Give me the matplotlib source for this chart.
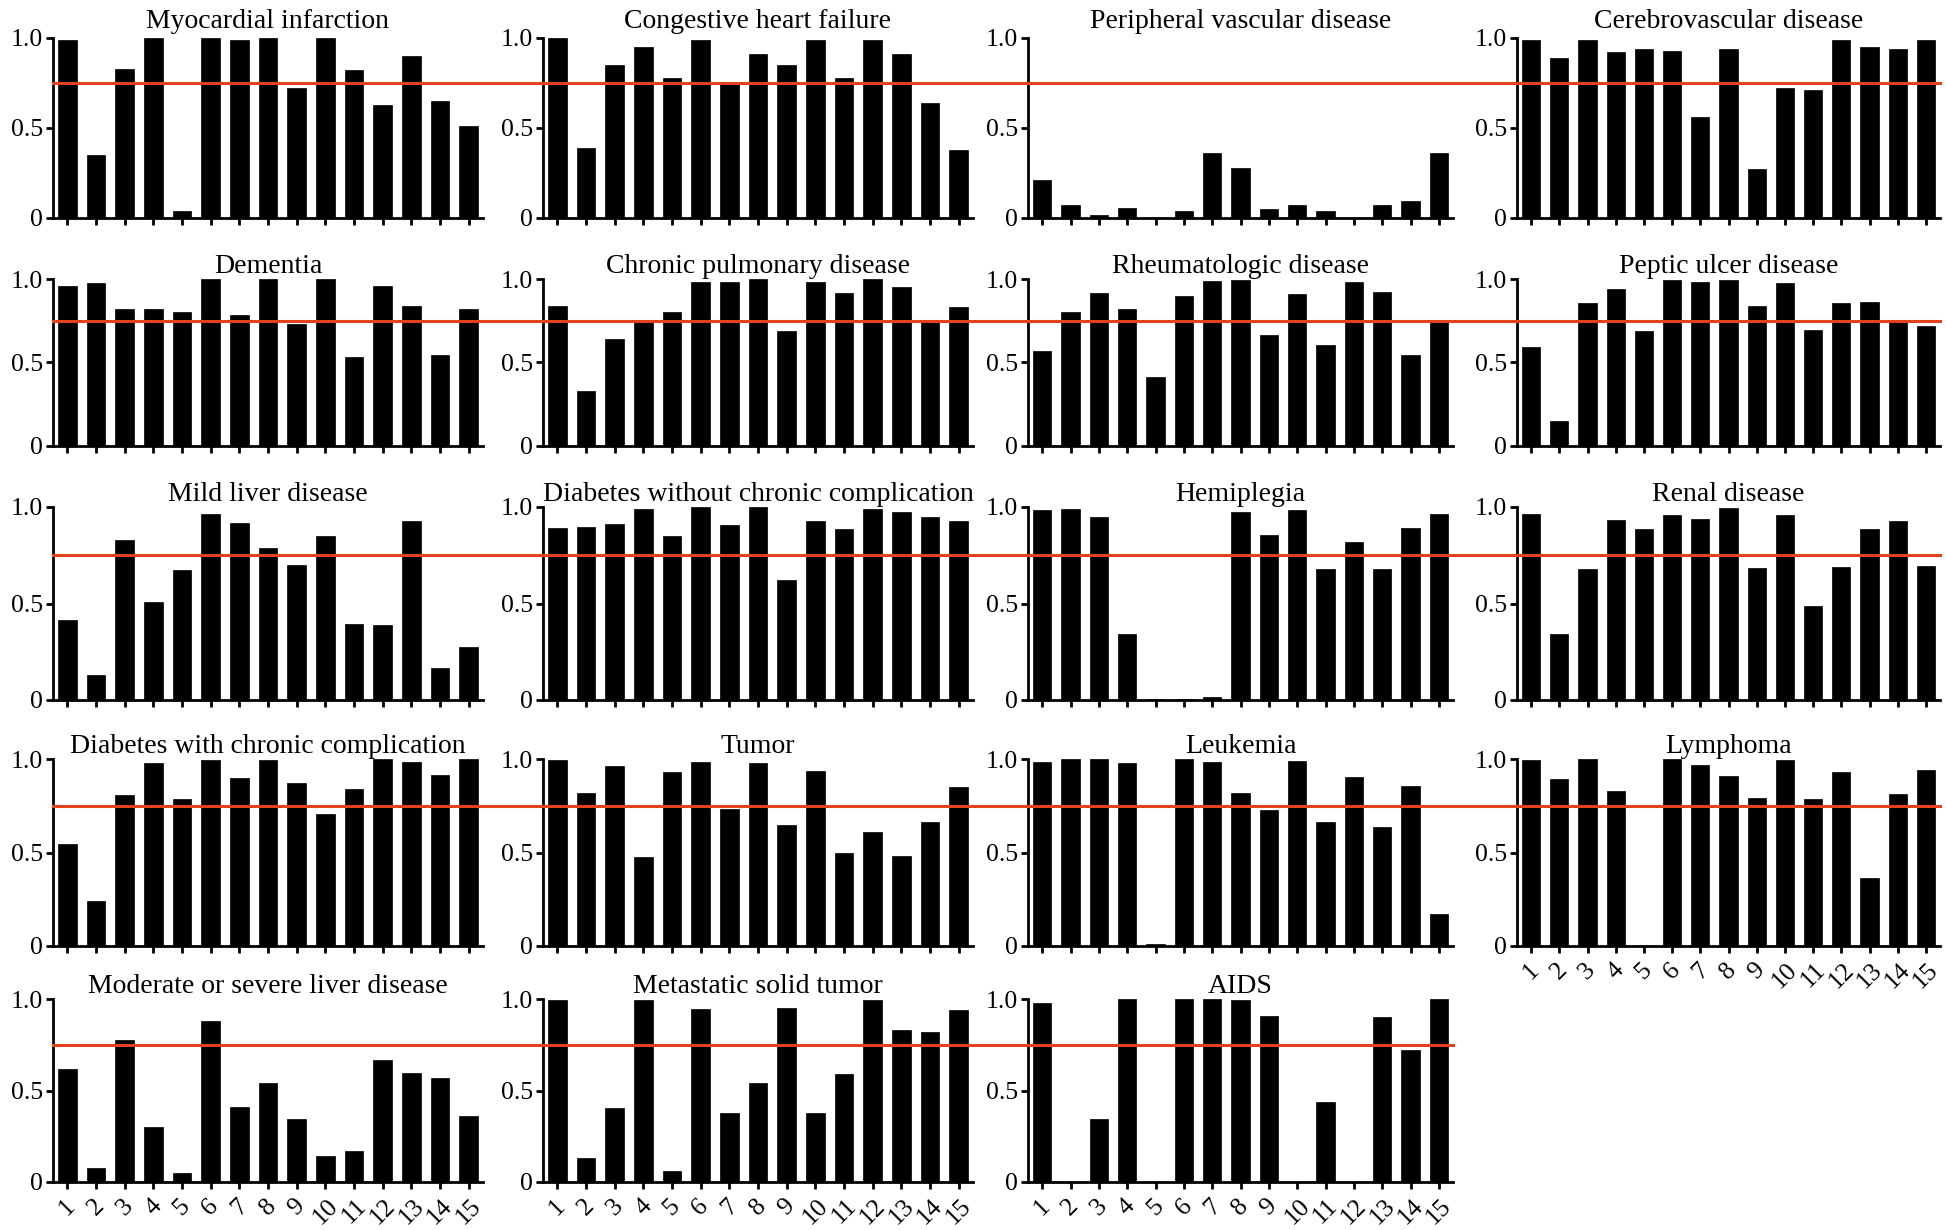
import matplotlib.pyplot as plt
from matplotlib.lines import Line2D
from matplotlib.transforms import blended_transform_factory

plt.rcParams['font.family'] = ['Liberation Serif', 'DejaVu Serif']

# group numbers on the x axis
groups = list(range(1, 16))
threshold = 0.75

titles = [
    "Myocardial infarction", "Congestive heart failure",
    "Peripheral vascular disease", "Cerebrovascular disease",
    "Dementia", "Chronic pulmonary disease",
    "Rheumatologic disease", "Peptic ulcer disease",
    "Mild liver disease", "Diabetes without chronic complication",
    "Hemiplegia", "Renal disease",
    "Diabetes with chronic complication", "Tumor",
    "Leukemia", "Lymphoma",
    "Moderate or severe liver disease", "Metastatic solid tumor", "AIDS",
]

myocardial = [0.99, 0.35, 0.83, 1.00, 0.04, 1.00, 0.99, 1.00, 0.72, 1.00, 0.82, 0.63, 0.90, 0.65, 0.51]
heart_failure = [1.00, 0.39, 0.85, 0.95, 0.78, 0.99, 0.75, 0.91, 0.85, 0.99, 0.78, 0.99, 0.91, 0.64, 0.38]
peripheral = [0.21, 0.07, 0.015, 0.056, 0.0, 0.039, 0.36, 0.28, 0.05, 0.07, 0.04, 0.0, 0.07, 0.094, 0.36]
cerebrovascular = [0.99, 0.89, 0.99, 0.92, 0.94, 0.93, 0.56, 0.94, 0.27, 0.72, 0.71, 0.99, 0.95, 0.94, 0.99]
dementia = [0.96, 0.975, 0.82, 0.82, 0.80, 1.00, 0.785, 1.00, 0.73, 1.00, 0.53, 0.96, 0.84, 0.545, 0.82]
pulmonary = [0.84, 0.33, 0.64, 0.75, 0.80, 0.985, 0.98, 1.00, 0.69, 0.985, 0.915, 1.00, 0.95, 0.75, 0.83]
rheumatologic = [0.57, 0.805, 0.915, 0.82, 0.415, 0.90, 0.99, 0.995, 0.665, 0.91, 0.605, 0.98, 0.925, 0.545, 0.745]
peptic_ulcer = [0.595, 0.15, 0.855, 0.94, 0.69, 0.995, 0.985, 0.995, 0.84, 0.975, 0.695, 0.855, 0.865, 0.75, 0.72]
mild_liver = [0.415, 0.13, 0.83, 0.51, 0.675, 0.965, 0.915, 0.79, 0.70, 0.85, 0.395, 0.39, 0.93, 0.165, 0.275]
diabetes_plain = [0.89, 0.895, 0.91, 0.99, 0.85, 1.00, 0.905, 1.00, 0.62, 0.93, 0.885, 0.99, 0.975, 0.95, 0.925]
hemiplegia = [0.985, 0.99, 0.95, 0.34, 0.003, 0.003, 0.017, 0.975, 0.855, 0.985, 0.68, 0.82, 0.68, 0.89, 0.965]
renal = [0.965, 0.34, 0.68, 0.935, 0.885, 0.96, 0.94, 0.995, 0.685, 0.96, 0.485, 0.69, 0.885, 0.925, 0.695]
diabetes_compl = [0.545, 0.24, 0.805, 0.98, 0.785, 0.995, 0.90, 0.995, 0.87, 0.705, 0.84, 1.00, 0.985, 0.915, 1.00]
tumor = [0.995, 0.82, 0.96, 0.475, 0.93, 0.985, 0.735, 0.98, 0.645, 0.935, 0.50, 0.61, 0.48, 0.665, 0.85]
leukemia = [0.985, 1.00, 1.00, 0.98, 0.013, 1.00, 0.985, 0.82, 0.725, 0.99, 0.665, 0.905, 0.635, 0.855, 0.17]
lymphoma = [0.995, 0.895, 1.00, 0.83, 0.0, 1.00, 0.97, 0.91, 0.79, 0.995, 0.785, 0.93, 0.365, 0.815, 0.94]
severe_liver = [0.615, 0.077, 0.775, 0.30, 0.051, 0.88, 0.41, 0.54, 0.345, 0.143, 0.172, 0.665, 0.595, 0.57, 0.358]
metastatic = [0.995, 0.133, 0.405, 0.995, 0.061, 0.945, 0.377, 0.54, 0.95, 0.375, 0.59, 0.995, 0.83, 0.82, 0.94]
aids = [0.98, 0.0, 0.345, 0.998, 0.0, 0.998, 0.998, 0.993, 0.905, 0.0, 0.435, 0.0, 0.90, 0.72, 0.998]

panels = [myocardial, heart_failure, peripheral, cerebrovascular,
          dementia, pulmonary, rheumatologic, peptic_ulcer,
          mild_liver, diabetes_plain, hemiplegia, renal,
          diabetes_compl, tumor, leukemia, lymphoma,
          severe_liver, metastatic, aids]

W, H = 1946, 1230
# panel frame in pixels
col_left = [53, 543, 1028, 1517]
col_right = [483, 973, 1453, 1940]
row_top = [38, 279, 507, 759, 999]
row_bot = [218, 446, 700, 946, 1182]
title_pad = [7, 0, 1.5, 4, 1]

fig = plt.figure(figsize=(W / 100, H / 100), dpi=100)

row_axes = {}
for k, (title, vals) in enumerate(zip(titles, panels)):
    r, c = divmod(k, 4)
    ax = fig.add_axes([col_left[c] / W, 1 - row_bot[r] / H,
                       (col_right[c] - col_left[c]) / W, (row_bot[r] - row_top[r]) / H])
    ax.patch.set_visible(False)
    ax.bar(groups, vals, width=0.65, color='black', edgecolor='black', linewidth=0.5)
    ax.set_xlim(0.5, 15.5)
    ax.set_ylim(0, 1.0)
    ax.set_yticks([0, 0.5, 1.0])
    ax.set_yticklabels(['0', '0.5', '1.0'])
    ax.set_xticks(groups)
    for side in ['top', 'right']:
        ax.spines[side].set_visible(False)
    for side in ['left', 'bottom']:
        ax.spines[side].set_linewidth(2)
    ax.tick_params(axis='both', width=2, length=5, labelsize=18.5, pad=2, direction='out')
    ax.tick_params(axis='x', pad=4)
    # only panels with nothing below them carry group labels
    if k + 4 >= len(titles):
        ax.set_xticklabels([str(g) for g in groups], rotation=45, ha='center', va='top')
    else:
        ax.set_xticklabels([])
    ax.set_title(title, fontsize=20, pad=title_pad[r])
    row_axes.setdefault(r, []).append(c)

# cut-off line running across each row
for r, cols in row_axes.items():
    ax0 = fig.axes[r * 4]
    tr = blended_transform_factory(fig.transFigure, ax0.transData)
    x0 = col_left[0] / W
    x1 = col_right[cols[-1]] / W
    fig.add_artist(Line2D([x0, x1], [threshold, threshold], transform=tr,
                          color='#E2431E', linewidth=2.2, zorder=5))

fig.savefig('out.png', dpi=100)
